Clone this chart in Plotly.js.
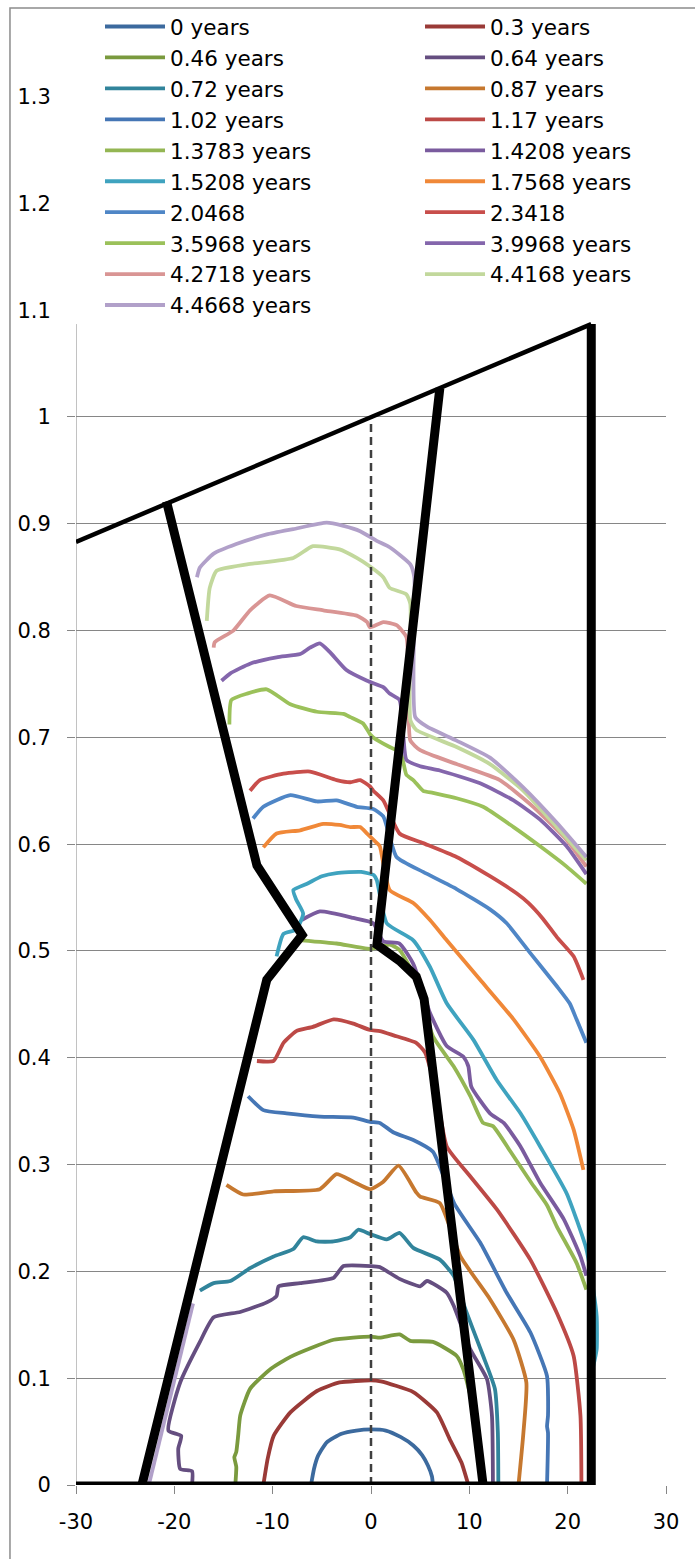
<!DOCTYPE html>
<html>
<head>
<meta charset="utf-8">
<script src="https://cdn.plot.ly/plotly-3.0.1.min.js"></script>
<style>html,body{margin:0;padding:0;background:#fff;}#chart{width:695px;height:1559px;}</style>
</head>
<body>
<div id="chart"></div>
<script>
// ---------- data ----------
const seriesNames = ['0 years','0.3 years','0.46 years','0.64 years','0.72 years','0.87 years',
  '1.02 years','1.17 years','1.3783 years','1.4208 years','1.5208 years','1.7568 years',
  '2.0468','2.3418','3.5968 years','3.9968 years','4.2718 years','4.4168 years','4.4668 years'];

const x_000 = [-6.1,-5.8,-5.4,-4.5,-3.0,-1.5,0,1.5,3.0,4.3,5.2,5.8,6.2,6.3];
const y_000 = [0,0.015,0.027,0.040,0.048,0.051,0.052,0.051,0.045,0.037,0.028,0.018,0.008,0];

const x_030 = [-10.95,-10.5,-9.9,-8.2,-5.5,-3.2,0,1.0,4.3,6.7,8.0,9.2,9.9];
const y_030 = [0,0.025,0.046,0.068,0.088,0.096,0.098,0.097,0.087,0.068,0.043,0.021,0];

const x_046 = [-13.8,-13.7,-13.9,-13.7,-13.5,-13.3,-12.3,-10.3,-8.2,-5.9,-3.8,-1.8,0,0.9,2.9,4.0,6.3,8.7,9.4,10.2,10.9,11.3];
const y_046 = [0,0.017,0.026,0.031,0.047,0.065,0.090,0.108,0.120,0.129,0.136,0.138,0.139,0.138,0.141,0.135,0.134,0.121,0.108,0.080,0.040,0];

const x_064 = [-18.2,-18.2,-19.4,-19.6,-19.3,-20.6,-19.4,-17.4,-16.0,-13.3,-10.6,-9.6,-9.4,-7.2,-3.8,-2.8,0.0,0.9,2.9,5.0,5.7,7.7,8.4,10.1,11.8,12.3,12.4];
const y_064 = [0,0.013,0.015,0.034,0.046,0.051,0.096,0.134,0.157,0.162,0.171,0.177,0.186,0.189,0.194,0.205,0.205,0.204,0.193,0.186,0.191,0.180,0.168,0.127,0.099,0.065,0];

const x_072 = [-17.4,-16.0,-14.3,-12.3,-9.9,-7.9,-6.9,-5.5,-3.8,-2.1,-1.3,-0.1,1.6,2.9,4.3,7.0,8.4,9.7,11.4,12.6,12.9,12.95];
const y_072 = [0.182,0.189,0.191,0.203,0.214,0.221,0.232,0.228,0.228,0.232,0.239,0.235,0.230,0.236,0.222,0.211,0.196,0.162,0.121,0.090,0.049,0];

const x_087 = [-14.7,-13.0,-9.9,-5.2,-3.5,-1.8,-0.1,1.25,2.8,4.6,5.0,7.0,9.1,12.1,14.5,15.8,15.5,15.0];
const y_087 = [0.281,0.272,0.275,0.277,0.291,0.284,0.277,0.284,0.299,0.274,0.270,0.264,0.214,0.174,0.136,0.096,0.049,0];

const x_102 = [-12.5,-10.95,-8.6,-5.2,-1.8,-0.1,0.9,2.3,4.3,6.3,8.5,11.1,13.8,16.2,17.9,18.0,17.9,18.0,17.9];
const y_102 = [0.364,0.351,0.348,0.345,0.344,0.340,0.339,0.330,0.323,0.312,0.263,0.227,0.180,0.143,0.102,0.065,0.055,0.049,0];

const x_117 = [-11.6,-9.9,-8.9,-7.6,-5.9,-3.8,-1.8,-0.1,0.9,2.3,4.6,5.5,6.6,7.7,10.0,12.8,16.2,18.9,20.6,21.3,21.4];
const y_117 = [0.397,0.397,0.414,0.425,0.429,0.436,0.432,0.426,0.425,0.421,0.414,0.405,0.370,0.317,0.290,0.258,0.211,0.161,0.121,0.065,0];

const x_13783 = [-7.05,-3.5,-0.1,1.9,2.9,4.6,6.3,8.4,10.1,11.4,12.4,14.2,16.3,17.9,18.9,20.9,21.9];
const y_13783 = [0.510,0.507,0.502,0.506,0.501,0.473,0.420,0.392,0.364,0.339,0.336,0.312,0.283,0.262,0.242,0.208,0.183];

const x_14208 = [-7.05,-5.2,-1.8,0.23,1.25,2.9,4.3,6.0,7.7,9.4,9.9,10.2,12.1,13.5,15.2,17.2,19.6,21.3,21.9];
const y_14208 = [0.529,0.537,0.531,0.526,0.509,0.507,0.488,0.442,0.411,0.401,0.392,0.373,0.348,0.339,0.317,0.283,0.249,0.214,0.196];

const x_15208 = [-9.6,-8.9,-7.6,-6.9,-7.6,-7.9,-6.5,-5.0,-3.5,-1.0,0.3,0.6,1.6,4.3,6.0,7.7,10.4,12.8,15.2,17.2,19.9,21.9,22.6,22.95,22.95,22.6];
const y_15208 = [0.495,0.516,0.520,0.535,0.548,0.557,0.563,0.570,0.573,0.574,0.571,0.566,0.526,0.510,0.485,0.451,0.417,0.379,0.348,0.317,0.273,0.221,0.183,0.158,0.127,0.111];

const x_17568 = [-10.95,-9.6,-7.2,-4.85,-3.2,-2.1,-1.1,-0.4,0.6,0.9,1.9,4.3,6.0,7.7,11.1,14.5,17.2,19.2,20.6,21.6];
const y_17568 = [0.597,0.610,0.613,0.619,0.618,0.616,0.616,0.610,0.601,0.598,0.557,0.545,0.529,0.510,0.473,0.436,0.401,0.367,0.333,0.295];

const x_20468 = [-12.0,-10.95,-8.2,-5.5,-3.5,-1.45,0.23,1.25,2.6,5.3,8.7,12.1,13.8,16.2,18.9,20.2,20.9,21.9];
const y_20468 = [0.624,0.635,0.646,0.640,0.641,0.635,0.633,0.626,0.588,0.574,0.558,0.539,0.526,0.498,0.467,0.451,0.436,0.414];

const x_23418 = [-12.3,-11.3,-8.9,-6.2,-3.5,-2.1,-1.1,-0.1,0.23,1.25,2.9,5.3,8.7,12.1,14.8,16.0,17.5,18.9,20.6,21.6];
const y_23418 = [0.650,0.660,0.666,0.668,0.660,0.658,0.660,0.654,0.650,0.641,0.610,0.601,0.588,0.570,0.554,0.545,0.530,0.513,0.495,0.473];

const x_35968 = [-14.4,-14.2,-12.6,-10.6,-8.2,-5.5,-2.8,-2.1,-0.8,-0.1,0.23,1.9,3.0,3.6,4.3,5.3,6.3,8.7,11.4,14.5,17.2,19.9,21.9];
const y_35968 = [0.712,0.735,0.741,0.745,0.731,0.724,0.722,0.719,0.713,0.703,0.700,0.691,0.686,0.665,0.660,0.650,0.648,0.643,0.635,0.616,0.598,0.579,0.563];

const x_39968 = [-15.2,-14.3,-12.3,-9.6,-7.2,-6.2,-5.2,-4.2,-2.5,-0.4,1.25,1.9,2.9,3.3,3.6,5.0,7.0,11.1,14.5,17.2,19.9,21.9];
const y_39968 = [0.753,0.760,0.769,0.775,0.778,0.784,0.788,0.780,0.763,0.753,0.747,0.741,0.735,0.700,0.679,0.673,0.669,0.657,0.641,0.623,0.598,0.572];

const x_42718 = [-16.0,-15.9,-14.0,-12.3,-10.3,-7.6,-4.85,-1.45,-0.4,-0.1,1.25,2.6,3.6,3.8,4.0,5.0,8.7,13.1,16.5,19.9,21.9];
const y_42718 = [0.784,0.789,0.800,0.819,0.833,0.823,0.819,0.814,0.808,0.803,0.808,0.805,0.794,0.750,0.697,0.688,0.675,0.660,0.635,0.604,0.579];

const x_44168 = [-16.7,-16.4,-15.7,-12.6,-7.9,-5.9,-3.2,-1.45,-0.1,1.25,1.9,3.6,4.0,4.0,4.6,8.7,12.1,15.5,18.9,21.9];
const y_44168 = [0.809,0.840,0.856,0.862,0.868,0.879,0.876,0.868,0.860,0.850,0.840,0.834,0.825,0.716,0.707,0.691,0.675,0.650,0.616,0.585];

const x_44668 = [-22.6,-18.1,null,-17.7,-17.4,-16.0,-13.7,-10.6,-7.9,-4.5,-2.8,-1.1,0.58,1.9,4.0,4.4,4.5,5.7,8.7,12.1,15.5,18.9,21.9];
const y_44668 = [0,0.17,null,0.850,0.859,0.872,0.881,0.890,0.895,0.901,0.898,0.893,0.884,0.878,0.862,0.850,0.719,0.710,0.697,0.681,0.653,0.620,0.588];

// boundary lines
const bottomX = [-30, 22.4],  bottomY = [0, 0];
const wallX = [22.4, 22.4],   wallY = [0, 1.087];
const topX = [-30, 22.4],     topY = [0.883, 1.087];
const leftX = [-20.8, -11.6, -7.0, -10.6, -23.3], leftY = [0.921, 0.580, 0.515, 0.473, 0];
const rightX = [7.0, 0.6, 3.0, 4.6, 5.4, 11.4],    rightY = [1.027, 0.506, 0.490, 0.476, 0.455, 0];
const axisX = [0, 0], axisY = [0, 1.0];

const xTickVals = [-30,-20,-10,0,10,20,30];
const xTickLabels = ['-30','-20','-10','0','10','20','30'];

const seriesX = [x_000,x_030,x_046,x_064,x_072,x_087,x_102,x_117,x_13783,x_14208,x_15208,x_17568,x_20468,x_23418,x_35968,x_39968,x_42718,x_44168,x_44668];
const seriesY = [y_000,y_030,y_046,y_064,y_072,y_087,y_102,y_117,y_13783,y_14208,y_15208,y_17568,y_20468,y_23418,y_35968,y_39968,y_42718,y_44168,y_44668];

// ---------- styles ----------
const colors = ['#3C6A9E','#9A3A37','#7A9A3E','#654E80','#31849B','#C6782F',
  '#4576B5','#BC4946','#94B653','#7A5B9E','#3FA3BF','#F08838',
  '#4F86C6','#C84E4B','#9BC15A','#8466AC','#D99594','#C2D89C','#B1A0C9'];

const traces = seriesNames.map((n, i) => ({
  type: 'scatter', mode: 'lines', name: n,
  x: seriesX[i], y: seriesY[i],
  line: {color: colors[i], width: 3.8, shape: 'spline', smoothing: 0.5},
  legend: (i % 2 === 0) ? 'legend' : 'legend2',
  hoverinfo: 'skip'
}));

function blk(x, y, w, dash, col) {
  return {type:'scatter', mode:'lines', x:x, y:y, showlegend:false, hoverinfo:'skip',
    line:{color: col || '#000', width:w, dash: dash || 'solid'}};
}
traces.push(blk(axisX, axisY, 2.5, '8px,5px', '#404040'));
traces.push(blk(bottomX, bottomY, 7));
traces.push(blk(wallX, wallY, 9));
traces.push(blk(topX, topY, 4.5));
traces.push(blk(leftX, leftY, 9));
traces.push(blk(rightX, rightY, 9));

const fontFam = 'DejaVu Sans, Liberation Sans, sans-serif';
const yTop = 1.3848;
const legendBase = {
  orientation: 'v', xanchor: 'left', y: 1, yanchor: 'top',
  bgcolor: 'rgba(255,255,255,0)', borderwidth: 0,
  font: {family: fontFam, size: 21.5, color: '#000'},
  indentation: 24, itemwidth: 60, entrywidthmode: 'pixels',
  traceorder: 'normal'
};

const layout = {
  width: 695, height: 1559,
  margin: {l: 76, r: 29, t: 6, b: 74, pad: 0},
  paper_bgcolor: '#ffffff', plot_bgcolor: '#ffffff',
  font: {family: fontFam, size: 21, color: '#000'},
  showlegend: true,
  xaxis: {
    range: [-30, 30], tickvals: xTickVals, ticktext: xTickLabels,
    showgrid: false, zeroline: false, showline: false,
    ticks: 'outside', ticklen: 8, tickcolor: '#868686', tickwidth: 1,
    tickfont: {family: fontFam, size: 21, color: '#000'}, ticklabelstandoff: 10
  },
  yaxis: {
    range: [0, yTop], tick0: 0, dtick: 0.1,
    showgrid: true, gridcolor: '#868686', gridwidth: 1,
    zeroline: false, showline: false,
    ticks: 'outside', ticklen: 8, tickcolor: '#868686', tickwidth: 1,
    tickfont: {family: fontFam, size: 21, color: '#000'}, ticklabelstandoff: 12
  },
  legend: Object.assign({}, legendBase, {x: 0, entrywidth: 250}),
  legend2: Object.assign({}, legendBase, {x: 0.5424, entrywidth: 200}),
  shapes: [
    {type:'rect', xref:'x', yref:'y', x0:-30, x1:30, y0:1.093, y1:yTop, layer:'between',
     fillcolor:'#ffffff', line:{width:0}},
    {type:'rect', xref:'paper', yref:'y', x0:-0.018, x1:-0.0005, y0:1.093, y1:yTop, layer:'above',
     fillcolor:'#ffffff', line:{width:0}},
    {type:'line', xref:'x', yref:'y', x0:-30, x1:-30, y0:0, y1:1.087, layer:'below',
     line:{color:'#868686', width:1}},
    {type:'rect', xref:'paper', yref:'paper', x0:-0.1119, x1:1.3, y0:-0.2, y1:0.99865, layer:'above',
     fillcolor:'rgba(0,0,0,0)', line:{color:'#8c8c8c', width:1.5}}
  ]
};

Plotly.newPlot('chart', traces, layout, {displayModeBar: false, staticPlot: true});
</script>
</body>
</html>
